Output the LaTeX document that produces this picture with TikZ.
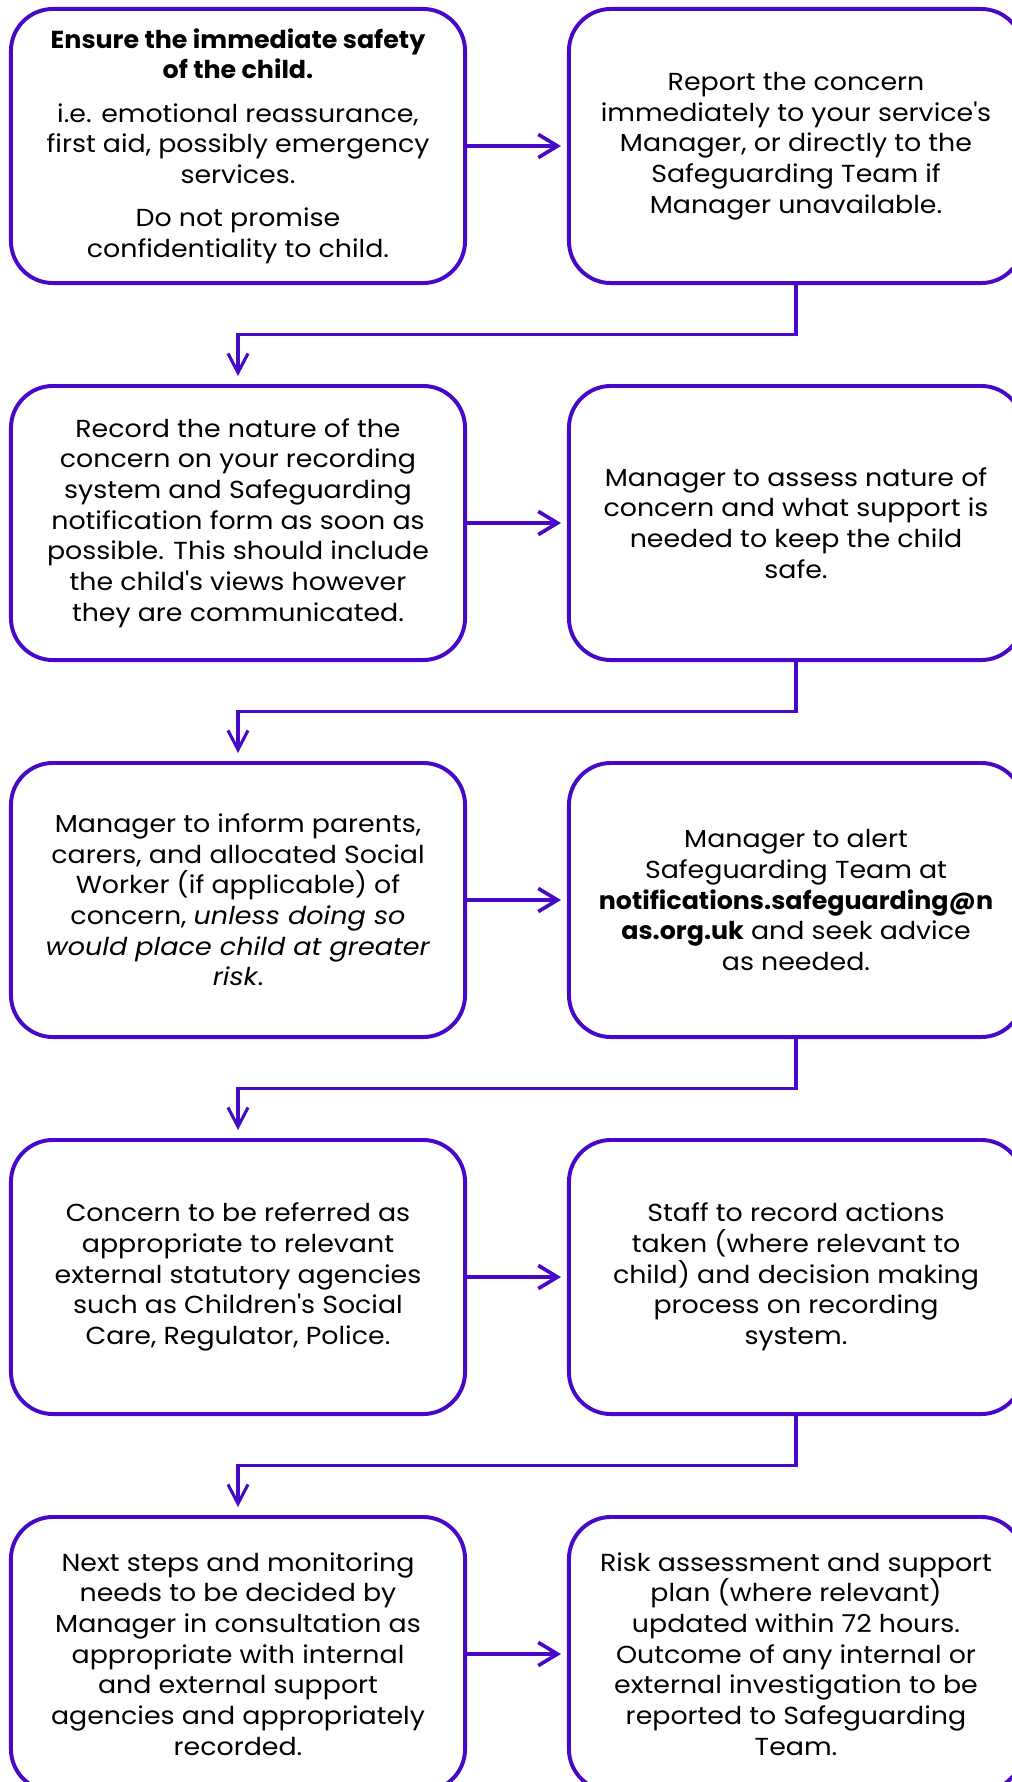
\documentclass[tikz,border=0pt]{standalone}
\usepackage{fontspec}
\setmainfont{Poppins}[UprightFeatures={FakeStretch=1.09},
  ItalicFeatures={FakeStretch=1.10},
  BoldFeatures={FakeStretch=1.03}]
\usetikzlibrary{arrows.meta,calc}
\definecolor{flow}{RGB}{72,8,200}
\newcommand{\apos}{\textquotesingle}
\tikzset{
  stepbox/.style={draw=flow, line width=2.8pt, rounded corners=1.05cm,
    minimum height=6.85cm, align=center, inner sep=0pt,
    font=\fontsize{17.5pt}{21.8pt}\selectfont, text=black},
  leftbox/.style={stepbox, minimum width=11.35cm},
  rightbox/.style={stepbox, minimum width=11.35cm},
  flowarrow/.style={draw=flow, line width=2.6pt,
    -{Straight Barb[length=0.48cm,width=0.58cm,line width=2.6pt]}},
  downarrow/.style={draw=flow, line width=2.2pt,
    -{Straight Barb[length=0.48cm,width=0.5cm,line width=2.2pt]}},
}
\begin{document}
\begin{tikzpicture}[x=0.025cm,y=-0.025cm]
\useasboundingbox (0,0) rectangle (1012,1782);
\clip (0,0) rectangle (1012,1782);
\fill[white] (0,0) rectangle (1012,1782);

\node[leftbox] (l1) at (238,146) {\textbf{Ensure the immediate safety}\\\textbf{of the child.}\\[9pt]
i.e. emotional reassurance,\\first aid, possibly emergency\\services.\\[9pt]
Do not promise\\confidentiality to child.};
\node[rightbox] (r1) at (796,146) {Report the concern\\immediately to your service\apos s\\Manager, or directly to the\\Safeguarding Team if\\Manager unavailable.};

\node[leftbox] (l2) at (238,523) {Record the nature of the\\concern on your recording\\system and Safeguarding\\notification form as soon as\\possible. This should include\\the child\apos s views however\\they are communicated.};
\node[rightbox] (r2) at (796,523) {Manager to assess nature of\\concern and what support is\\needed to keep the child\\safe.};

\node[leftbox] (l3) at (238,900) {Manager to inform parents,\\carers, and allocated Social\\Worker (if applicable) of\\concern, \textit{unless doing so}\\\textit{would place child at greater}\\\textit{risk}.};
\node[rightbox] (r3) at (796,900) {Manager to alert\\Safeguarding Team at\\\textbf{notifications.safeguarding@n}\\\textbf{as.org.uk} and seek advice\\as needed.};

\node[leftbox] (l4) at (238,1277) {Concern to be referred as\\appropriate to relevant\\external statutory agencies\\such as Children\apos s Social\\Care, Regulator, Police.};
\node[rightbox] (r4) at (796,1277) {Staff to record actions\\taken (where relevant to\\child) and decision making\\process on recording\\system.};

\node[leftbox] (l5) at (238,1654) {Next steps and monitoring\\needs to be decided by\\Manager in consultation as\\appropriate with internal\\and external support\\agencies and appropriately\\recorded.};
\node[rightbox] (r5) at (796,1654) {Risk assessment and support\\plan (where relevant)\\updated within 72 hours.\\Outcome of any internal or\\external investigation to be\\reported to Safeguarding\\Team.};

\foreach \i in {1,...,5}{
  \draw[flowarrow, shorten >=0.15cm] (l\i.east) -- (r\i.west);
}
\foreach \i/\j in {1/2,2/3,3/4,4/5}{
  \draw[downarrow, shorten >=0.2cm] (r\i.south) |- ($(r\i.south)!0.5!(l\j.north)$) -| (l\j.north);
}
\end{tikzpicture}
\end{document}
